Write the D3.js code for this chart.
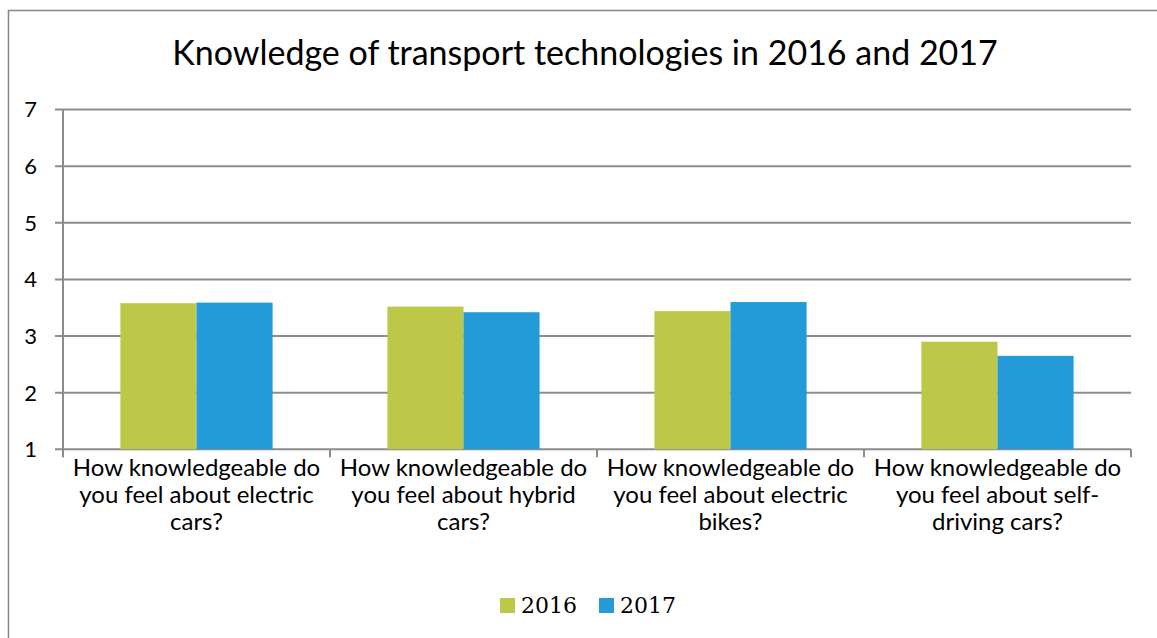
<!DOCTYPE html>
<html lang="en">
<head>
<meta charset="utf-8">
<title>Knowledge of transport technologies</title>
<script src="https://cdn.jsdelivr.net/npm/d3@7"></script>
<style>
  body { margin: 0; background: #fff; }
</style>
</head>
<body>
<script>
// data
var categories = [
  ["How knowledgeable do", "you feel about electric", "cars?"],
  ["How knowledgeable do", "you feel about hybrid", "cars?"],
  ["How knowledgeable do", "you feel about electric", "bikes?"],
  ["How knowledgeable do", "you feel about self-", "driving cars?"]
];
var seriesNames = ["2016", "2017"];
var values2016 = [3.58, 3.52, 3.44, 2.90];
var values2017 = [3.59, 3.42, 3.60, 2.65];
var yTicks = [1, 2, 3, 4, 5, 6, 7];
var colors = ["#bdc848", "#249ad9"];

var width = 1157, height = 638;
var plotLeft = 63, plotRight = 1131, plotTop = 109.5, plotBottom = 449.3;
var font = "Lato";

var svg = d3.select("body").append("svg")
  .attr("width", width)
  .attr("height", height);

// outer chart frame
svg.append("rect")
  .attr("x", 8.5).attr("y", 10.5)
  .attr("width", width + 10).attr("height", height + 10)
  .attr("fill", "none")
  .attr("stroke", "#878787")
  .attr("stroke-width", 1.5);

svg.append("text")
  .attr("x", 585).attr("y", 65)
  .attr("text-anchor", "middle")
  .attr("font-family", font)
  .attr("font-size", 34)
  .attr("fill", "#000")
  .text("Knowledge of transport technologies in 2016 and 2017");

var y = d3.scaleLinear().domain([1, 7]).range([plotBottom, plotTop]);
var x = d3.scaleBand().domain(d3.range(categories.length))
  .range([plotLeft, plotRight]).paddingInner(0.43).paddingOuter(0.215);
var xs = d3.scaleBand().domain(seriesNames).range([0, x.bandwidth()]);

// gridlines
svg.append("g").selectAll("line")
  .data(yTicks)
  .enter().append("line")
  .attr("x1", plotLeft - 8).attr("x2", plotRight)
  .attr("y1", function(d) { return y(d); })
  .attr("y2", function(d) { return y(d); })
  .attr("stroke", "#8c8c8c")
  .attr("stroke-width", 2);

// y axis line
svg.append("line")
  .attr("x1", plotLeft).attr("x2", plotLeft)
  .attr("y1", plotTop).attr("y2", plotBottom + 8)
  .attr("stroke", "#8c8c8c").attr("stroke-width", 2);

svg.append("g").selectAll("text")
  .data(yTicks)
  .enter().append("text")
  .attr("x", 37)
  .attr("y", function(d) { return y(d); })
  .attr("dy", "0.36em")
  .attr("text-anchor", "end")
  .attr("font-family", font)
  .attr("font-size", 22)
  .text(function(d) { return d; });

// category ticks
var catTicks = d3.range(categories.length + 1).map(function(i) { return plotLeft + i * x.step(); });
svg.append("g").selectAll("line")
  .data(catTicks)
  .enter().append("line")
  .attr("x1", function(d) { return d; }).attr("x2", function(d) { return d; })
  .attr("y1", plotBottom).attr("y2", plotBottom + 8)
  .attr("stroke", "#8c8c8c").attr("stroke-width", 2);

// bars
var series = [values2016, values2017];
series.forEach(function(vals, si) {
  svg.append("g").selectAll("rect")
    .data(vals)
    .enter().append("rect")
    .attr("x", function(d, i) { return x(i) + xs(seriesNames[si]); })
    .attr("y", function(d) { return y(d); })
    .attr("width", xs.bandwidth())
    .attr("height", function(d) { return y(1) - y(d); })
    .attr("fill", colors[si]);
});

// category labels
var labels = svg.append("g").selectAll("text")
  .data(categories)
  .enter().append("text")
  .attr("text-anchor", "middle")
  .attr("font-family", font)
  .attr("font-size", 24)
  .attr("fill", "#000");
labels.each(function(lines, i) {
  var t = d3.select(this);
  lines.forEach(function(l, j) {
    t.append("tspan")
      .attr("x", x(i) + x.bandwidth() / 2)
      .attr("y", 476 + j * 27)
      .text(l);
  });
});

// legend
var legend = svg.append("g");
var legendX = [500, 599];
seriesNames.forEach(function(s, i) {
  legend.append("rect")
    .attr("x", legendX[i]).attr("y", 598)
    .attr("width", 15).attr("height", 15)
    .attr("fill", colors[i]);
  legend.append("text")
    .attr("x", legendX[i] + 21).attr("y", 613)
    .attr("font-family", "DejaVu Serif")
    .attr("font-size", 22)
    .text(s);
});
</script>
</body>
</html>
